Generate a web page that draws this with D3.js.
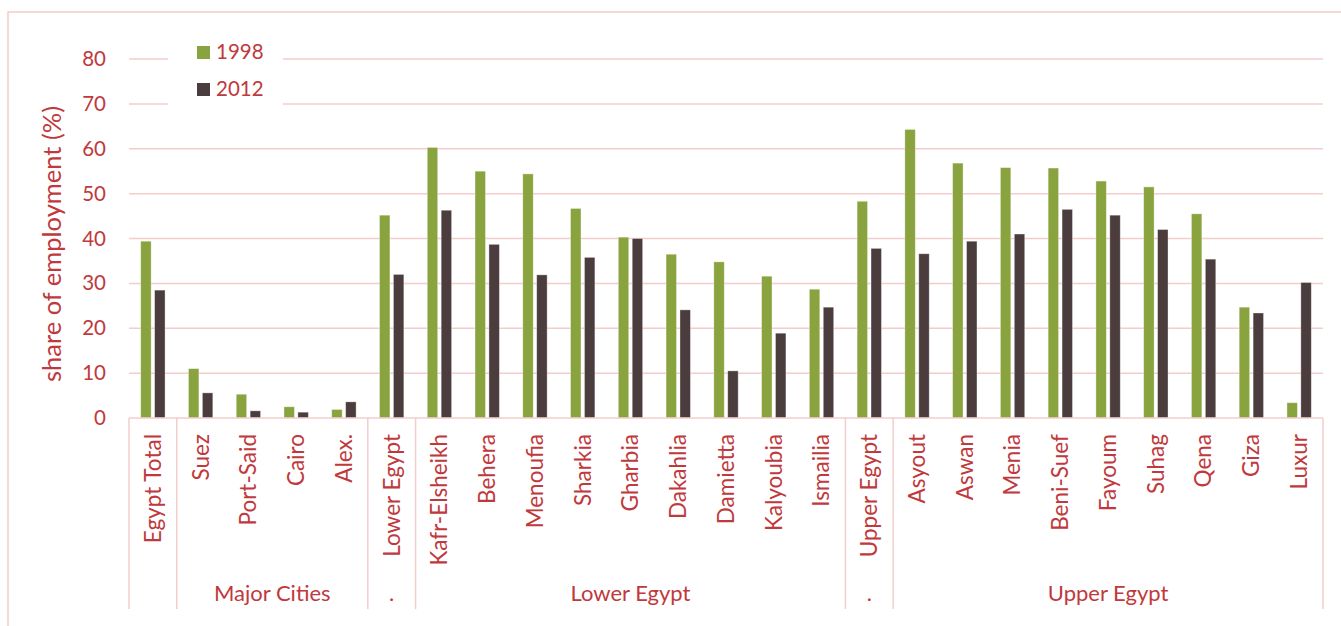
<!DOCTYPE html>
<html>
<head>
<meta charset="utf-8">
<script src="https://cdn.jsdelivr.net/npm/d3@7"></script>
<style>
  html, body { margin: 0; padding: 0; background: #ffffff; }
  svg { display: block; font-family: Lato, "Open Sans", sans-serif; }
</style>
</head>
<body>
<svg id="chart" width="1341" height="626"></svg>
<script>
// Share of employment in agriculture by governorate, 1998 vs 2012
const categories = [
  "Egypt Total",
  "Suez", "Port-Said", "Cairo", "Alex.",
  "Lower Egypt",
  "Kafr-Elsheikh", "Behera", "Menoufia", "Sharkia", "Gharbia", "Dakahlia",
  "Damietta", "Kalyoubia", "Ismailia",
  "Upper Egypt",
  "Asyout", "Aswan", "Menia", "Beni-Suef", "Fayoum", "Suhag", "Qena", "Giza", "Luxur"
];
const values1998 = [
  39.4,
  11.0, 5.3, 2.5, 1.9,
  45.2,
  60.3, 55.0, 54.4, 46.7, 40.3, 36.5, 34.8, 31.6, 28.7,
  48.3,
  64.3, 56.8, 55.8, 55.7, 52.8, 51.5, 45.5, 24.7, 3.4
];
const values2012 = [
  28.5,
  5.6, 1.6, 1.3, 3.6,
  32.0,
  46.3, 38.7, 31.9, 35.8, 40.0, 24.1, 10.5, 18.9, 24.7,
  37.8,
  36.6, 39.4, 41.0, 46.5, 45.2, 42.0, 35.4, 23.4, 30.2
];
// Region groups along the x axis: label and number of categories in each
const groupLabels = ["", "Major Cities", ".", "Lower Egypt", ".", "Upper Egypt"];
const groupSizes = [1, 4, 1, 9, 1, 9];
const seriesNames = ["1998", "2012"];
const yTicks = [0, 10, 20, 30, 40, 50, 60, 70, 80];

const colors = { "1998": "#89a33e", "2012": "#4b3c3d" };
const textColor = "#c0393c";
const lineColor = "#f3cccc";

const svg = d3.select("#chart");
const plotLeft = 129, plotRight = 1323, plotTop = 59, plotBottom = 418;

// outer frame
svg.append("path")
  .attr("d", `M8,626 L8,12 L1341,12`)
  .attr("fill", "none").attr("stroke", lineColor).attr("stroke-width", 1.5);

const y = d3.scaleLinear().domain([0, 80]).range([plotBottom, plotTop]);
const x = d3.scaleBand().domain(categories).range([plotLeft, plotRight])
  .paddingInner(0.49).paddingOuter(0.245);
const xSub = d3.scaleBand().domain(seriesNames).range([0, x.bandwidth()]).paddingInner(0.25);
const step = x.step();

// horizontal gridlines
svg.append("g").selectAll("line").data(yTicks.filter(d => d > 0)).join("line")
  .attr("x1", plotLeft).attr("x2", plotRight)
  .attr("y1", d => y(d)).attr("y2", d => y(d))
  .attr("stroke", lineColor).attr("stroke-width", 1.5);

// y axis tick labels
const yAxis = svg.append("g")
  .attr("transform", `translate(${plotLeft - 23},0)`)
  .call(d3.axisLeft(y).tickValues(yTicks).tickSize(0).tickPadding(0));
yAxis.select(".domain").remove();
yAxis.selectAll("text")
  .attr("fill", textColor).attr("font-size", 20.5).attr("font-family", "Lato, sans-serif");

// y axis title
svg.append("text")
  .attr("transform", `translate(52,244) rotate(-90)`)
  .attr("text-anchor", "middle").attr("dy", "0.35em")
  .attr("fill", textColor).attr("font-size", 25.5)
  .text("share of employment (%)");

// bars
const rows = categories.map((c, i) => ({ c, "1998": values1998[i], "2012": values2012[i] }));
const groupsG = svg.append("g").selectAll("g").data(rows).join("g")
  .attr("transform", d => `translate(${x(d.c)},0)`);
groupsG.selectAll("rect")
  .data(d => seriesNames.map(s => ({ s, v: d[s] })))
  .join("rect")
  .attr("x", d => xSub(d.s))
  .attr("width", xSub.bandwidth())
  .attr("y", d => y(d.v))
  .attr("height", d => y(0) - y(d.v))
  .attr("fill", d => colors[d.s])
  .attr("stroke", "#ffffff").attr("stroke-opacity", 0.45).attr("stroke-width", 0.8);

// x axis baseline
svg.append("line")
  .attr("x1", plotLeft).attr("x2", plotRight).attr("y1", plotBottom).attr("y2", plotBottom)
  .attr("stroke", lineColor).attr("stroke-width", 1.5);

// category labels (rotated)
svg.append("g").selectAll("text").data(categories).join("text")
  .attr("transform", d => `translate(${x(d) + x.bandwidth() / 2},${plotBottom + 16}) rotate(-90)`)
  .attr("text-anchor", "end").attr("dy", "0.35em")
  .attr("fill", textColor).attr("font-size", 22.5)
  .text(d => d);

// group separators and labels
let idx = 0;
const bounds = [0];
groupSizes.forEach(n => { idx += n; bounds.push(idx); });
svg.append("g").selectAll("line").data(bounds).join("line")
  .attr("x1", d => plotLeft + d * step).attr("x2", d => plotLeft + d * step)
  .attr("y1", plotBottom).attr("y2", 609)
  .attr("stroke", lineColor).attr("stroke-width", 1.5);
svg.append("g").selectAll("text").data(groupLabels).join("text")
  .attr("x", (d, i) => plotLeft + (bounds[i] + bounds[i + 1]) / 2 * step)
  .attr("y", 601)
  .attr("text-anchor", "middle")
  .attr("fill", textColor).attr("font-size", 22)
  .text(d => d);

// legend
const legend = svg.append("g");
legend.append("rect").attr("x", 168).attr("y", 34).attr("width", 115).attr("height", 76).attr("fill", "#ffffff");
seriesNames.forEach((s, i) => {
  legend.append("rect").attr("x", 197).attr("y", 46 + i * 37).attr("width", 13).attr("height", 13)
    .attr("fill", colors[s]);
  legend.append("text").attr("x", 216).attr("y", 59 + i * 37)
    .attr("fill", textColor).attr("font-size", 20.5).text(s);
});
</script>
</body>
</html>
